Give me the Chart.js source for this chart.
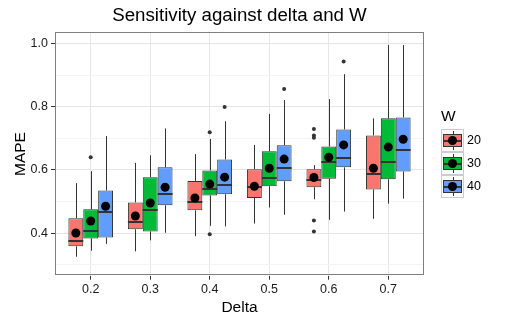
<!DOCTYPE html>
<html>
<head>
<meta charset="utf-8">
<script src="https://cdn.jsdelivr.net/npm/chart.js@4/dist/chart.umd.min.js"></script>
<style>
  html, body { margin: 0; padding: 0; background: #ffffff; }
  #wrap { width: 506px; height: 325px; }
</style>
</head>
<body>
<div id="wrap"><canvas id="box-chart" width="506" height="325"></canvas></div>
<script>
// categories and groups
const deltas = ['0.2', '0.3', '0.4', '0.5', '0.6', '0.7'];
const groups = ['20', '30', '40'];
const colors = ['#F8766D', '#00BA38', '#619CFF'];

// box statistics, one row per W (20, 30, 40)
const whiskerLo = [
  [0.325, 0.342, 0.390, 0.430, 0.507, 0.445],
  [0.344, 0.377, 0.423, 0.481, 0.442, 0.493],
  [0.366, 0.401, 0.421, 0.458, 0.468, 0.509]
];
const q1 = [
  [0.358, 0.412, 0.472, 0.511, 0.545, 0.538],
  [0.383, 0.405, 0.519, 0.548, 0.572, 0.570],
  [0.386, 0.488, 0.523, 0.564, 0.608, 0.595]
];
const median = [
  [0.376, 0.436, 0.498, 0.547, 0.568, 0.588],
  [0.407, 0.474, 0.538, 0.575, 0.625, 0.625],
  [0.467, 0.524, 0.553, 0.607, 0.638, 0.664]
];
const q3 = [
  [0.447, 0.497, 0.565, 0.602, 0.602, 0.709],
  [0.475, 0.577, 0.598, 0.659, 0.674, 0.763],
  [0.535, 0.608, 0.633, 0.678, 0.728, 0.766]
];
const whiskerHi = [
  [0.558, 0.622, 0.650, 0.679, 0.615, 0.763],
  [0.596, 0.646, 0.698, 0.777, 0.824, 0.995],
  [0.707, 0.731, 0.754, 0.821, 0.903, 0.995]
];
const means = [
  [0.400, 0.454, 0.511, 0.548, 0.576, 0.605],
  [0.438, 0.495, 0.555, 0.605, 0.640, 0.672],
  [0.485, 0.545, 0.577, 0.634, 0.679, 0.697]
];
// outliers: [category index, value]
const outliers = [
  [[4, 0.729], [4, 0.709], [4, 0.702], [4, 0.440], [4, 0.405]],
  [[0, 0.640], [2, 0.719], [2, 0.396]],
  [[2, 0.799], [3, 0.856], [4, 0.943]]
];

// axis ticks
const yTicks = [0.3, 0.4, 0.5, 0.6, 0.7, 0.8, 0.9, 1.0];
const yMajor = [0.4, 0.6, 0.8, 1.0];

const FONT = '"Liberation Sans", Arial, sans-serif';
const DODGE = 0.25;

function isMajor(v) {
  return yMajor.some(m => Math.abs(m - v) < 1e-6);
}

const boxDatasets = groups.map((g, k) => ({
  type: 'bar',
  label: g,
  order: 2,
  data: deltas.map((d, i) => ({ x: i + 1, y: [q1[k][i], q3[k][i]] })),
  backgroundColor: colors[k],
  borderColor: '#333333',
  borderWidth: 1,
  borderSkipped: false,
  categoryPercentage: 0.75,
  barPercentage: 1
}));

const outlierDatasets = groups.map((g, k) => ({
  type: 'scatter',
  label: 'out' + g,
  order: 3,
  data: outliers[k].map(p => ({ x: p[0] + 1 + (k - 1) * DODGE, y: p[1] })),
  pointRadius: 2,
  pointBackgroundColor: '#333333',
  pointBorderWidth: 0
}));

const meanDatasets = groups.map((g, k) => ({
  type: 'scatter',
  label: 'mean' + g,
  order: 0,
  data: means[k].map((m, i) => ({ x: i + 1 + (k - 1) * DODGE, y: m })),
  pointRadius: 4.5,
  pointBackgroundColor: '#000000',
  pointBorderWidth: 0
}));

const boxParts = {
  id: 'boxParts',
  beforeDatasetsDraw(chart) {
    const ctx = chart.ctx;
    const ys = chart.scales.y;
    ctx.save();
    ctx.strokeStyle = '#333333';
    ctx.lineWidth = 1;
    groups.forEach((g, k) => {
      chart.getDatasetMeta(k).data.forEach((el, i) => {
        const x = Math.round(el.x) + 0.5;
        ctx.beginPath();
        ctx.moveTo(x, ys.getPixelForValue(whiskerHi[k][i]));
        ctx.lineTo(x, ys.getPixelForValue(q3[k][i]));
        ctx.moveTo(x, ys.getPixelForValue(q1[k][i]));
        ctx.lineTo(x, ys.getPixelForValue(whiskerLo[k][i]));
        ctx.stroke();
      });
    });
    ctx.restore();
  },
  afterDatasetDraw(chart, args) {
    if (args.index > 2) {
      return;
    }
    const k = args.index;
    const ctx = chart.ctx;
    const ys = chart.scales.y;
    ctx.save();
    ctx.strokeStyle = '#333333';
    ctx.lineWidth = 2;
    args.meta.data.forEach((el, i) => {
      const y = Math.round(ys.getPixelForValue(median[k][i]));
      ctx.beginPath();
      ctx.moveTo(el.x - el.width / 2, y);
      ctx.lineTo(el.x + el.width / 2, y);
      ctx.stroke();
    });
    ctx.restore();
  },
  afterDatasetsDraw(chart) {
    const a = chart.chartArea;
    const ctx = chart.ctx;
    ctx.save();
    ctx.strokeStyle = '#7F7F7F';
    ctx.lineWidth = 1;
    ctx.strokeRect(Math.round(a.left) + 0.5, Math.round(a.top) + 0.5,
      Math.round(a.right - a.left) - 1, Math.round(a.bottom - a.top) - 1);
    ctx.restore();
  },
  afterDraw(chart) {
    // legend for W
    const ctx = chart.ctx;
    const left = 441, top = 129, size = 23;
    ctx.save();
    ctx.fillStyle = '#000000';
    ctx.font = '15.5px ' + FONT;
    ctx.textBaseline = 'middle';
    ctx.textAlign = 'left';
    ctx.fillText('W', left, 117);
    groups.forEach((g, k) => {
      const y0 = top + k * size;
      const cx = left + size / 2, cy = y0 + size / 2;
      ctx.fillStyle = '#ffffff';
      ctx.fillRect(left, y0, size, size);
      ctx.strokeStyle = '#CCCCCC';
      ctx.lineWidth = 1;
      ctx.strokeRect(left + 0.5, y0 + 0.5, size - 1, size - 1);
      ctx.strokeStyle = '#333333';
      ctx.beginPath();
      ctx.moveTo(Math.round(cx) + 0.5, y0 + 2);
      ctx.lineTo(Math.round(cx) + 0.5, y0 + size - 2);
      ctx.stroke();
      ctx.fillStyle = colors[k];
      ctx.fillRect(left + 2.5, y0 + 5.5, size - 5, size - 11);
      ctx.strokeRect(left + 2.5, y0 + 5.5, size - 5, size - 11);
      ctx.lineWidth = 2;
      ctx.beginPath();
      ctx.moveTo(left + 2.5, Math.round(cy));
      ctx.lineTo(left + size - 2.5, Math.round(cy));
      ctx.stroke();
      ctx.fillStyle = '#000000';
      ctx.beginPath();
      ctx.arc(cx, cy, 4.5, 0, Math.PI * 2);
      ctx.fill();
      ctx.font = '12.5px ' + FONT;
      ctx.fillText(g, left + size + 3, cy + 0.5);
    });
    ctx.restore();
  }
};

new Chart(document.getElementById('box-chart'), {
  type: 'bar',
  data: { datasets: [...boxDatasets, ...outlierDatasets, ...meanDatasets] },
  plugins: [boxParts],
  options: {
    responsive: false,
    animation: false,
    layout: { padding: { left: 0, right: 82, top: 0, bottom: 0 } },
    plugins: {
      legend: { display: false },
      tooltip: { enabled: false },
      title: {
        display: true,
        fullSize: false,
        text: 'Sensitivity against delta and W',
        color: '#000000',
        font: { family: FONT, size: 18.7, weight: 'normal' },
        padding: { top: 5, bottom: 5 }
      }
    },
    scales: {
      x: {
        type: 'linear',
        min: 0.4,
        max: 6.6,
        offset: false,
        afterBuildTicks: s => { s.ticks = deltas.map((d, i) => ({ value: i + 1 })); },
        afterFit: s => { s.height = 49.3; },
        grid: { offset: false, color: '#E6E6E6', tickColor: '#333333', tickLength: 4, lineWidth: 1 },
        border: { display: false },
        ticks: {
          padding: 2,
          color: '#1a1a1a',
          font: { family: FONT, size: 12.5 },
          callback: v => deltas[Math.round(v) - 1]
        },
        title: {
          display: true,
          text: 'Delta',
          color: '#000000',
          font: { family: FONT, size: 15.5 },
          padding: { top: 0, bottom: 8 }
        }
      },
      y: {
        min: 0.265,
        max: 1.035,
        afterBuildTicks: s => { s.ticks = yTicks.map(v => ({ value: v })); },
        afterFit: s => { s.width = 55; },
        grid: {
          color: c => isMajor(c.tick.value) ? '#E6E6E6' : '#F4F4F4',
          tickColor: c => isMajor(c.tick.value) ? '#333333' : 'rgba(0,0,0,0)',
          tickLength: 4,
          lineWidth: 1
        },
        border: { display: false },
        ticks: {
          padding: 3,
          color: '#1a1a1a',
          font: { family: FONT, size: 12.5 },
          callback: v => isMajor(v) ? v.toFixed(1) : ''
        },
        title: {
          display: true,
          text: 'MAPE',
          color: '#000000',
          font: { family: FONT, size: 15.5 },
          padding: { top: 11, bottom: 0 }
        }
      }
    }
  }
});
</script>
</body>
</html>
